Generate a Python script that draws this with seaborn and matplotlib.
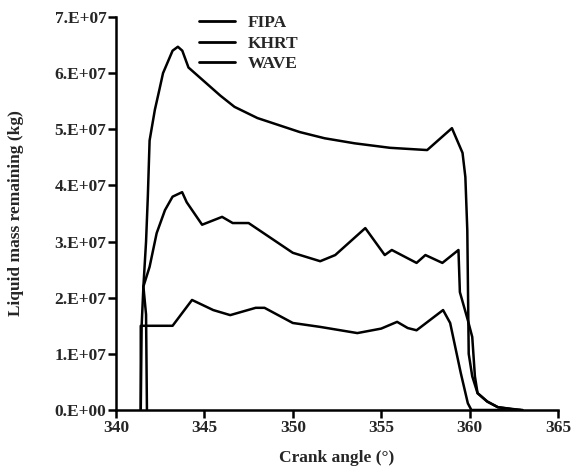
import numpy as np
import pandas as pd
import matplotlib
matplotlib.use("Agg")
import matplotlib.pyplot as plt
import seaborn as sns

# Data (crank angle in degrees, liquid mass in kg)
fipa_x = [341.4, 341.45, 341.55, 341.7, 341.8, 341.9, 342.2, 342.45, 342.66, 343.2, 343.5,
          343.75, 344.1, 345.0, 345.9, 346.7, 348.0, 350.4, 351.8, 353.5, 355.5, 357.6,
          359.0, 359.6, 359.76, 359.87, 359.95, 360.15, 360.45, 361.0, 361.6, 362.5, 363.0]
fipa_y = [0.0, 1.5, 2.2, 3.0, 3.8, 4.8, 5.35, 5.7, 6.0, 6.4, 6.47,
          6.4, 6.1, 5.85, 5.6, 5.4, 5.2, 4.95, 4.84, 4.75, 4.67, 4.63,
          5.02, 4.58, 4.15, 3.2, 1.0, 0.6, 0.3, 0.15, 0.05, 0.01, 0.0]

khrt_x = [341.75, 341.7, 341.55, 341.9, 342.3, 342.77, 343.2, 343.74, 344.0, 344.87, 346.0,
          346.6, 347.5, 350.0, 351.55, 352.4, 354.1, 355.2, 355.6, 357.0, 357.5, 358.46,
          359.37, 359.45, 359.9, 360.15, 360.3, 360.45, 361.0, 361.6, 362.9]
khrt_y = [0.0, 1.7, 2.2, 2.55, 3.15, 3.56, 3.8, 3.88, 3.7, 3.3, 3.44,
          3.33, 3.33, 2.8, 2.65, 2.76, 3.24, 2.76, 2.85, 2.62, 2.76, 2.62,
          2.85, 2.1, 1.6, 1.3, 0.6, 0.3, 0.15, 0.05, 0.0]

wave_x = [341.4, 341.4, 343.2, 344.3, 345.5, 346.46, 347.9, 348.4, 350.0, 351.55, 353.65,
          355.0, 355.9, 356.5, 357.0, 358.5, 358.9, 359.5, 359.9, 360.1, 362.0]
wave_y = [0.0, 1.5, 1.5, 1.96, 1.78, 1.69, 1.82, 1.82, 1.55, 1.48, 1.37,
          1.45, 1.57, 1.46, 1.42, 1.78, 1.55, 0.66, 0.12, 0.0, 0.0]

series_names = ["FIPA", "KHRT", "WAVE"]
y_ticks = [0, 1e7, 2e7, 3e7, 4e7, 5e7, 6e7, 7e7]
y_tick_labels = ["0.E+00", "1.E+07", "2.E+07", "3.E+07", "4.E+07", "5.E+07", "6.E+07", "7.E+07"]
x_ticks = [340, 345, 350, 355, 360, 365]

frames = []
for name, xs, ys in zip(series_names, [fipa_x, khrt_x, wave_x], [fipa_y, khrt_y, wave_y]):
    frames.append(pd.DataFrame({"angle": xs, "mass": np.array(ys) * 1e7,
                                "model": name, "order": range(len(xs))}))
df = pd.concat(frames, ignore_index=True)

sns.set_style("white")
plt.rcParams["font.family"] = ["Liberation Serif", "DejaVu Serif"]
plt.rcParams["font.weight"] = "bold"

FS = 12.5
fig = plt.figure(figsize=(5.74, 4.74), dpi=100)
ax = fig.add_axes([116 / 574, 1 - 410 / 474, (558 - 116) / 574, (410 - 17) / 474])

for name in series_names:
    sub = df[df["model"] == name]
    sns.lineplot(data=sub, x="angle", y="mass", sort=False, estimator=None,
                 color="black", linewidth=1.8, ax=ax, label=name)

ax.set_xlim(340, 365)
ax.set_ylim(0, 7e7)
ax.set_xticks(x_ticks)
ax.set_xticklabels([str(t) for t in x_ticks], fontsize=FS, fontweight="bold")
ax.set_yticks(y_ticks)
ax.set_yticklabels(y_tick_labels, fontsize=FS, fontweight="bold")
ax.set_xlabel("Crank angle (°)", fontsize=FS, fontweight="bold", labelpad=10)
ax.set_ylabel("Liquid mass remaining (kg)", fontsize=FS, fontweight="bold", labelpad=22)

for s in ["top", "right"]:
    ax.spines[s].set_visible(False)
for s in ["left", "bottom"]:
    ax.spines[s].set_linewidth(1.8)
    ax.spines[s].set_color("black")
ax.tick_params(axis="both", direction="out", length=6, width=1.8, color="black",
               bottom=True, left=True, pad=1)

leg = ax.legend(loc="upper left", bbox_to_anchor=(0.152, 1.045), frameon=False,
                handlelength=2.1, handletextpad=0.7, labelspacing=0.25,
                prop={"weight": "bold", "size": FS})
for line in leg.get_lines():
    line.set_linewidth(2.0)

fig.savefig("out.png", dpi=100, facecolor="white")
